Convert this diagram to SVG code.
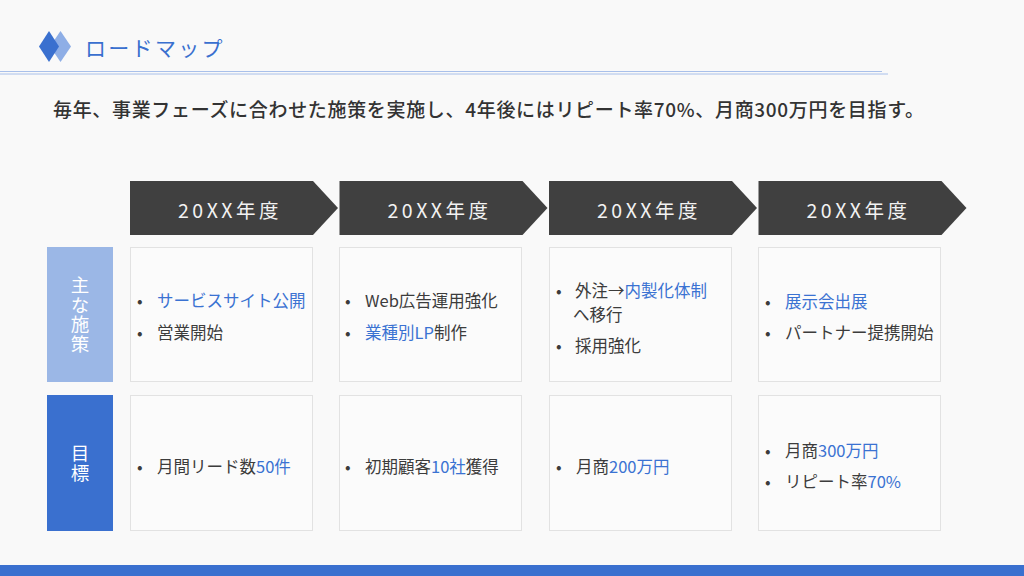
<svg xmlns="http://www.w3.org/2000/svg" width="1024" height="576" viewBox="0 0 1024 576">
<style>
text{font-family:"Noto Sans CJK JP","Noto Sans",sans-serif;}
.chev{fill:#404040;}
.yr{fill:#f2f2f2;font-size:19.5px;letter-spacing:3.5px;text-anchor:middle;}
.cell{fill:#fbfbfb;stroke:#e2e2e2;stroke-width:1;}
.t{fill:#3c3c3c;font-size:16.5px;}
.b{fill:#3a72d2;}
.lbl{fill:#ffffff;font-size:18.5px;writing-mode:vertical-rl;letter-spacing:1px;}
</style>
<rect width="1024" height="576" fill="#f9f9f9"/>
<g id="header">
<polygon points="60.5,31 71,46.5 60.5,62 50,46.5" fill="#8eaee6"/>
<polygon points="49,31 59,46.5 49,62 39,46.5" fill="#3a70cf"/>
<text x="85" y="56" font-size="21" letter-spacing="2.3" fill="#3a70cf">ロードマップ</text>
<line x1="0" y1="71.5" x2="882" y2="71.5" stroke="#a9c0ea" stroke-width="1"/>
<line x1="0" y1="74" x2="888" y2="74" stroke="#a9c0ea" stroke-width="1"/>
</g>
<text id="subtitle" x="53" y="117" font-size="19" font-weight="500" fill="#333333" textLength="871" lengthAdjust="spacing">毎年、事業フェーズに合わせた施策を実施し、4年後にはリピート率70%、月商300万円を目指す。</text>
<g id="year1"><polygon class="chev" points="130,181 313,181 338,208 313,235 130,235"/><text class="yr" x="230" y="218">20XX年度</text></g>
<g id="year2"><polygon class="chev" points="339.5,181 522.5,181 547.5,208 522.5,235 339.5,235"/><text class="yr" x="439.5" y="218">20XX年度</text></g>
<g id="year3"><polygon class="chev" points="549,181 732,181 757,208 732,235 549,235"/><text class="yr" x="649" y="218">20XX年度</text></g>
<g id="year4"><polygon class="chev" points="758.5,181 941.5,181 966.5,208 941.5,235 758.5,235"/><text class="yr" x="858.5" y="218">20XX年度</text></g>
<g id="label-measures">
<rect x="47" y="247" width="66" height="135" fill="#9bb7e6"/>
<text class="lbl" x="80" y="276">主な施策</text>
</g>
<g id="label-goals">
<rect x="47" y="395" width="66" height="136" fill="#3a70cf"/>
<text class="lbl" x="80" y="444">目標</text>
</g>
<g id="m1">
<rect class="cell" x="130.5" y="247.5" width="182" height="134"/>
<text class="t" x="137" y="307">•</text><text class="t b" x="157" y="307">サービスサイト公開</text>
<text class="t" x="137" y="339">•</text><text class="t" x="157" y="339">営業開始</text>
</g>
<g id="m2">
<rect class="cell" x="339.5" y="247.5" width="182" height="134"/>
<text class="t" x="345" y="307">•</text><text class="t" x="365" y="307">Web広告運用強化</text>
<text class="t" x="345" y="339">•</text><text class="t" x="365" y="339"><tspan class="b">業種別LP</tspan>制作</text>
</g>
<g id="m3">
<rect class="cell" x="549.5" y="247.5" width="182" height="134"/>
<text class="t" x="556" y="297">•</text><text class="t" x="575" y="297">外注→<tspan class="b">内製化体制</tspan></text>
<text class="t" x="573" y="321">へ移行</text>
<text class="t" x="556" y="352">•</text><text class="t" x="575" y="352">採用強化</text>
</g>
<g id="m4">
<rect class="cell" x="758.5" y="247.5" width="182" height="134"/>
<text class="t" x="765" y="308">•</text><text class="t b" x="785" y="308">展示会出展</text>
<text class="t" x="765" y="339">•</text><text class="t" x="785" y="339">パートナー提携開始</text>
</g>
<g id="g1">
<rect class="cell" x="130.5" y="395.5" width="182" height="135"/>
<text class="t" x="137" y="473">•</text><text class="t" x="157" y="473">月間リード数<tspan class="b">50件</tspan></text>
</g>
<g id="g2">
<rect class="cell" x="339.5" y="395.5" width="182" height="135"/>
<text class="t" x="345" y="473">•</text><text class="t" x="365" y="473">初期顧客<tspan class="b">10社</tspan>獲得</text>
</g>
<g id="g3">
<rect class="cell" x="549.5" y="395.5" width="182" height="135"/>
<text class="t" x="556" y="473">•</text><text class="t" x="576" y="473">月商<tspan class="b">200万円</tspan></text>
</g>
<g id="g4">
<rect class="cell" x="758.5" y="395.5" width="182" height="135"/>
<text class="t" x="765" y="457">•</text><text class="t" x="785" y="457">月商<tspan class="b">300万円</tspan></text>
<text class="t" x="765" y="488">•</text><text class="t" x="785" y="488">リピート率<tspan class="b">70%</tspan></text>
</g>
<g id="connectors"></g>
<rect id="footer" x="0" y="565" width="1024" height="11" fill="#3a70cf"/>
</svg>
